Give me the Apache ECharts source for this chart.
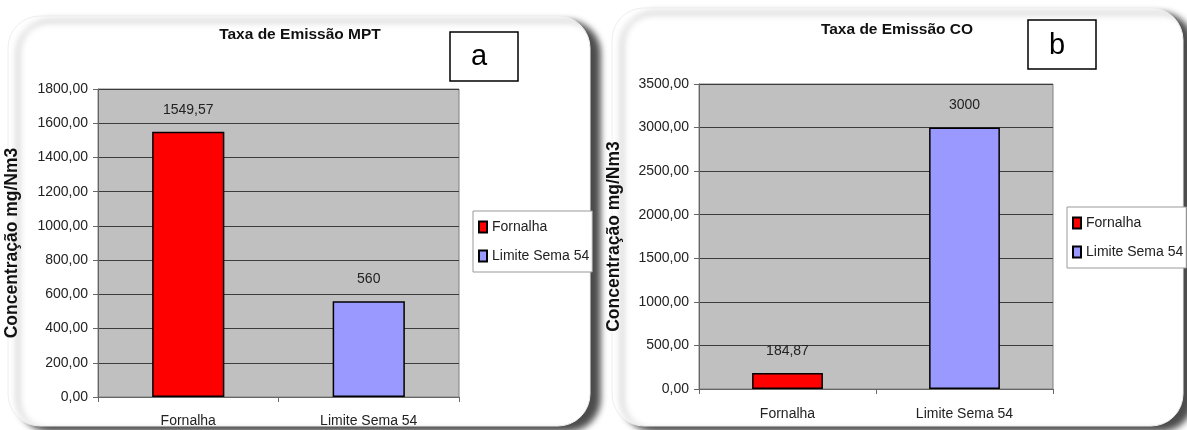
<!DOCTYPE html>
<html>
<head>
<meta charset="utf-8">
<script src="https://cdn.jsdelivr.net/npm/echarts@6/dist/echarts.min.js"></script>
<style>
  html, body { margin: 0; padding: 0; background: #fff; }
  #chart { width: 1187px; height: 430px; }
</style>
</head>
<body>
<div id="chart"></div>
<script>
  // dados
  const categories = ['Fornalha', 'Limite Sema 54'];
  const mptValues = [1549.57, 560];
  const coValues = [184.87, 3000];
  const barColors = ['#ff0000', '#9999ff'];
  const mptAxis = { min: 0, max: 1800, interval: 200 };
  const coAxis = { min: 0, max: 3500, interval: 500 };

  const font = "'Liberation Sans', Arial, sans-serif";
  const fs = 14;

  const comma = v => String(v).replace('.', ',');

  let myChart = echarts.init(document.getElementById('chart'));

  function makeSeries(values, idx) {
    return categories.map((name, i) => ({
      name: name,
      type: 'bar',
      xAxisIndex: idx,
      yAxisIndex: idx,
      stack: 'p' + idx,
      barWidth: '40%',
      data: values.map((v, j) => (j === i ? v : '-')),
      itemStyle: { color: barColors[i], borderColor: '#000', borderWidth: 1.5 },
      label: {
        show: true,
        position: 'top',
        distance: 15,
        color: '#222',
        fontFamily: font,
        fontSize: fs,
        formatter: p => comma(p.value)
      }
    }));
  }

  function makeYAxis(idx, range, gap) {
    return {
      type: 'value',
      gridIndex: idx,
      min: range.min,
      max: range.max,
      interval: range.interval,
      name: 'Concentração mg/Nm3',
      nameLocation: 'middle',
      nameGap: gap,
      nameTextStyle: { fontFamily: font, fontWeight: 'bold', fontSize: 17.5, color: '#111' },
      axisLine: { show: true, lineStyle: { color: '#666', width: 1 } },
      axisTick: { show: true, length: 5, lineStyle: { color: '#666' } },
      axisLabel: {
        margin: 10,
        color: '#222',
        fontFamily: font,
        fontSize: fs,
        formatter: v => v.toFixed(2).replace('.', ',')
      },
      splitLine: { show: true, lineStyle: { color: '#3c3c3c', width: 1 } }
    };
  }

  function makeXAxis(idx, margin) {
    return {
      type: 'category',
      gridIndex: idx,
      data: categories,
      axisLine: { show: true, lineStyle: { color: '#666', width: 1 } },
      axisTick: { show: true, length: 5, lineStyle: { color: '#666' } },
      axisLabel: { margin: margin, color: '#222', fontFamily: font, fontSize: fs }
    };
  }

  function makeLegend(left, top) {
    return {
      data: categories,
      orient: 'vertical',
      left: left,
      top: top,
      icon: 'rect',
      itemWidth: 8,
      itemHeight: 11,
      itemGap: 15,
      padding: [9, 3, 9, 5],
      borderColor: '#999',
      borderWidth: 1,
      backgroundColor: '#fff',
      textStyle: { fontFamily: font, fontSize: fs, color: '#222' }
    };
  }

  function labelBox(x, y, letter, tx, ty) {
    return [
      {
        type: 'rect', z: 5,
        shape: { x: x, y: y, width: 68, height: 49 },
        style: { fill: '#fff', stroke: '#000', lineWidth: 1.5 }
      },
      {
        type: 'text', z: 6, x: tx, y: ty,
        style: { text: letter, fontFamily: font, fontSize: 29, fill: '#000', align: 'center', verticalAlign: 'middle' }
      }
    ];
  }

  let option = {
    backgroundColor: '#fff',
    animation: false,
    title: [
      { text: 'Taxa de Emissão MPT', left: 295, top: 22, textAlign: 'center',
        textStyle: { fontFamily: font, fontWeight: 'bold', fontSize: 15.5, color: '#111' } },
      { text: 'Taxa de Emissão CO', left: 892, top: 17, textAlign: 'center',
        textStyle: { fontFamily: font, fontWeight: 'bold', fontSize: 15.5, color: '#111' } }
    ],
    legend: [makeLegend(473, 211), makeLegend(1067, 207)],
    grid: [
      { left: 98, top: 89, width: 361, height: 308, show: true, backgroundColor: '#c0c0c0', borderColor: '#808080', borderWidth: 1 },
      { left: 699, top: 84, width: 354, height: 305, show: true, backgroundColor: '#c0c0c0', borderColor: '#808080', borderWidth: 1 }
    ],
    xAxis: [makeXAxis(0, 17), makeXAxis(1, 18)],
    yAxis: [makeYAxis(0, mptAxis, 77), makeYAxis(1, coAxis, 76)],
    series: makeSeries(mptValues, 0).concat(makeSeries(coValues, 1)),
    graphic: [
      {
        type: 'rect', z: -10,
        shape: { x: 8, y: 16, width: 582, height: 410, r: 32 },
        style: { fill: '#fff', stroke: '#eee', lineWidth: 1, shadowBlur: 6, shadowColor: 'rgba(0,0,0,0.7)', shadowOffsetX: 10, shadowOffsetY: 5 }
      },
      {
        type: 'rect', z: -10,
        shape: { x: 612, y: 8, width: 571, height: 418, r: 32 },
        style: { fill: '#fff', stroke: '#eee', lineWidth: 1, shadowBlur: 6, shadowColor: 'rgba(0,0,0,0.7)', shadowOffsetX: 10, shadowOffsetY: 5 }
      }
    ].concat(labelBox(450, 32, 'a', 479, 57), labelBox(1028, 20, 'b', 1057, 46))
  };

  myChart.setOption(option);
</script>
</body>
</html>
